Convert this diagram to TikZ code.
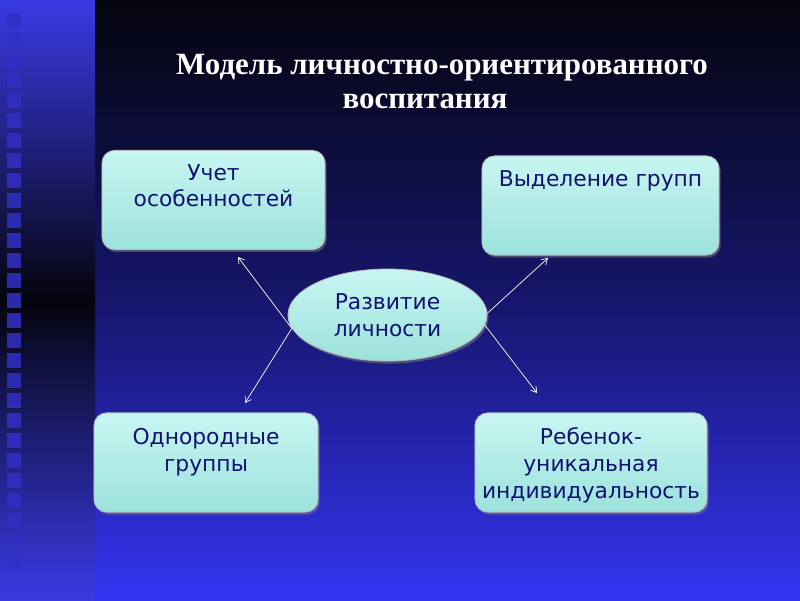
\documentclass[tikz,border=0pt]{standalone}
\usepackage{fontspec}
\setmainfont{Liberation Serif}
\newfontfamily\cardfont{DejaVu Sans}
\usepackage{tikz}
\usetikzlibrary{arrows.meta,positioning,shapes.geometric,shadows}
\definecolor{night}{HTML}{04040E}
\definecolor{midnight}{HTML}{16166C}
\definecolor{royal}{HTML}{3434F2}
\definecolor{stripblue}{HTML}{3A3AE4}
\definecolor{holeblue}{HTML}{3030C4}
\definecolor{aqua}{HTML}{C8F6F2}
\definecolor{aquadark}{HTML}{9CE2DC}
\definecolor{ink}{HTML}{121270}
\tikzset{
  card/.style={
    rectangle, rounded corners=9pt, draw=gray!55, line width=0.6pt,
    top color=aqua, bottom color=aquadark,
    drop shadow={shadow xshift=1.2pt, shadow yshift=-1.8pt, opacity=0.5},
    minimum width=#1, minimum height=2.48cm, inner sep=0pt
  },
  card/.default=5.6cm,
  cardtext/.style={
    text=ink, font=\cardfont\fontsize{15.5}{19}\selectfont,
    align=center, inner sep=0pt
  },
  hub/.style={
    ellipse, draw=gray!55, line width=0.6pt,
    top color=aqua, bottom color=aquadark,
    drop shadow={shadow xshift=1.2pt, shadow yshift=-1.8pt, opacity=0.5},
    minimum width=4.975cm, minimum height=2.3cm, inner sep=0pt,
    text=ink, font=\cardfont\fontsize{15.5}{19}\selectfont, align=center
  },
  headline/.style={
    text=white, font=\bfseries\fontsize{22}{26}\selectfont,
    anchor=base, inner sep=0pt
  },
  link/.style={
    -{Straight Barb[length=4pt,width=5pt]}, white, line width=0.5pt
  },
  hole/.style={fill=holeblue, opacity=0.85},
}
\begin{document}
\begin{tikzpicture}[x=0.025cm, y=-0.025cm]
\useasboundingbox (0,0) rectangle (800,600);
% background and film strip
\shade[top color=night, bottom color=royal, middle color=midnight] (95,0) rectangle (800,600);
\shade[top color=stripblue, bottom color=stripblue, middle color=night] (0,0) rectangle (95,600);
\foreach \k in {0,...,27}
  \fill[hole] (7,13+20*\k) rectangle (21,28+20*\k);

% title
\node[headline] (head1) at (442,74) {Модель личностно-ориентированного};
\node[headline] (head2) at (425,108) {воспитания};

% cards
\node[card=5.575cm] (ucet) at (213.5,200) {};
\node[card=5.925cm] (groups) at (600.5,205.5) {};
\node[card=5.6cm] (uniform) at (206,462.5) {};
\node[card=5.8cm] (child) at (591,462.5) {};
\node[cardtext, below=0.35cm of ucet.north] (ucet-text) {Учет\\особенностей};
\node[cardtext, below=0.375cm of groups.north] (groups-text) {Выделение групп};
\node[cardtext, below=0.4cm of uniform.north] (uniform-text) {Однородные\\группы};
\node[cardtext, below=0.38cm of child.north] (child-text) {Ребенок-\\уникальная\\индивидуальность};

% centre
\node[hub] (dev) at (387.5,315) {Развитие\\личности};

% arrows
\coordinate (tip-ucet) at (238,257);
\coordinate (tip-uniform) at (245,403);
\coordinate (tip-groups) at (548,258);
\coordinate (tip-child) at (537,393);
\draw[link] (dev.188) -- (tip-ucet);
\draw[link] (dev.188) -- (tip-uniform);
\draw[link] (dev.1) -- (tip-groups);
\draw[link] (dev.-6) -- (tip-child);
\end{tikzpicture}
\end{document}
